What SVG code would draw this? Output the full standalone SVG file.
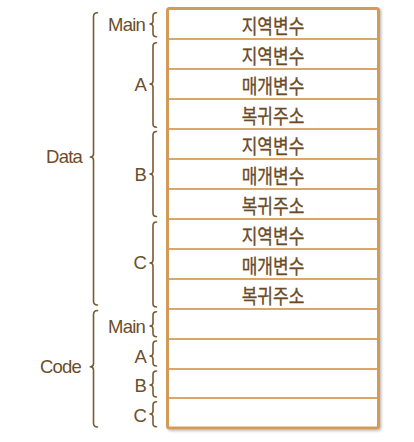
<svg xmlns="http://www.w3.org/2000/svg" width="414" height="442" viewBox="0 0 414 442">
<defs>
<style>
.lbl{font-family:"Liberation Sans",Arial,sans-serif;font-size:18.5px;fill:#6b4e2c;text-anchor:end;letter-spacing:-0.8px}
.ko{font-family:"Noto Sans CJK KR","Noto Sans",sans-serif;font-size:20.5px;fill:#6b4a26;stroke:#6b4a26;stroke-width:0.35;text-anchor:middle}
.brace{fill:none;stroke:#7a5a33;stroke-width:1.6;stroke-linecap:round;stroke-linejoin:round}
.row{stroke:#daa66a;stroke-width:1.8}
.box{fill:#fff;stroke:#d39a58;stroke-width:3}
</style>
<filter id="sh" x="-5%" y="-5%" width="115%" height="115%">
<feDropShadow dx="1.5" dy="1.5" stdDeviation="1.2" flood-color="#000" flood-opacity="0.25"/>
</filter>
</defs>
<rect width="414" height="442" fill="#fff"/>
<g id="memory">
<rect class="box" x="167.5" y="8.5" width="211" height="419.5" rx="2" filter="url(#sh)"/>
<g id="rows">
<line class="row" x1="169" y1="39" x2="377" y2="39"/>
<line class="row" x1="169" y1="69" x2="377" y2="69"/>
<line class="row" x1="169" y1="99" x2="377" y2="99"/>
<line class="row" x1="169" y1="129" x2="377" y2="129"/>
<line class="row" x1="169" y1="159" x2="377" y2="159"/>
<line class="row" x1="169" y1="189" x2="377" y2="189"/>
<line class="row" x1="169" y1="219" x2="377" y2="219"/>
<line class="row" x1="169" y1="249" x2="377" y2="249"/>
<line class="row" x1="169" y1="279" x2="377" y2="279"/>
<line class="row" x1="169" y1="309" x2="377" y2="309"/>
<line class="row" x1="169" y1="339" x2="377" y2="339"/>
<line class="row" x1="169" y1="369" x2="377" y2="369"/>
<line class="row" x1="169" y1="398" x2="377" y2="398"/>
</g>
<g id="cells">
<text class="ko" transform="translate(273,33.5) scale(0.83,1)">지역변수</text>
<text class="ko" transform="translate(273,63.5) scale(0.83,1)">지역변수</text>
<text class="ko" transform="translate(273,93.5) scale(0.83,1)">매개변수</text>
<text class="ko" transform="translate(273,123.5) scale(0.83,1)">복귀주소</text>
<text class="ko" transform="translate(273,153.5) scale(0.83,1)">지역변수</text>
<text class="ko" transform="translate(273,183.5) scale(0.83,1)">매개변수</text>
<text class="ko" transform="translate(273,213.5) scale(0.83,1)">복귀주소</text>
<text class="ko" transform="translate(273,243.5) scale(0.83,1)">지역변수</text>
<text class="ko" transform="translate(273,273.5) scale(0.83,1)">매개변수</text>
<text class="ko" transform="translate(273,303.5) scale(0.83,1)">복귀주소</text>
</g>
</g>
<g id="connectors">
<path class="brace" d="M156.5,12.7 Q153,12.7 153,16 L153,21 Q153,24 150,24 Q153,24 153,27 L153,33.5 Q153,36.7 156.5,36.7"/>
<path class="brace" d="M156.5,42.7 Q153,42.7 153,46 L153,81 Q153,84 150,84 Q153,84 153,87 L153,124 Q153,127.3 156.5,127.3"/>
<path class="brace" d="M156.5,131.5 Q153,131.5 153,135 L153,171 Q153,174 150,174 Q153,174 153,177 L153,213 Q153,216.5 156.5,216.5"/>
<path class="brace" d="M156.5,222 Q153,222 153,225.5 L153,260 Q153,263 150,263 Q153,263 153,266 L153,303.5 Q153,307 156.5,307"/>
<path class="brace" d="M156.5,311.7 Q153,311.7 153,315 L153,323 Q153,326 150,326 Q153,326 153,329 L153,333.5 Q153,336.7 156.5,336.7"/>
<path class="brace" d="M156.5,341 Q153,341 153,344.3 L153,353 Q153,356 150,356 Q153,356 153,359 L153,362.7 Q153,366 156.5,366"/>
<path class="brace" d="M156.5,371 Q153,371 153,374.3 L153,382 Q153,385 150,385 Q153,385 153,388 L153,393.7 Q153,397 156.5,397"/>
<path class="brace" d="M156.5,401.7 Q153,401.7 153,405 L153,411 Q153,414 150,414 Q153,414 153,417 L153,423.4 Q153,426.7 156.5,426.7"/>
<path class="brace" d="M97.5,12.7 Q93.5,12.7 93.5,16.5 L93.5,154 Q93.5,157 90.3,157 Q93.5,157 93.5,160 L93.5,301 Q93.5,305 97.5,305"/>
<path class="brace" d="M97.5,310.5 Q93.5,310.5 93.5,314.5 L93.5,363.5 Q93.5,366.7 90.3,366.7 Q93.5,366.7 93.5,370 L93.5,423 Q93.5,427 97.5,427"/>
</g>
<g id="labels">
<text class="lbl" x="145" y="30.5">Main</text>
<text class="lbl" x="146" y="90.5">A</text>
<text class="lbl" x="146" y="180.5">B</text>
<text class="lbl" x="146" y="269">C</text>
<text class="lbl" x="82" y="163">Data</text>
<text class="lbl" x="145" y="333">Main</text>
<text class="lbl" x="146" y="362.5">A</text>
<text class="lbl" x="146" y="392">B</text>
<text class="lbl" x="146" y="421.5">C</text>
<text class="lbl" x="81" y="373">Code</text>
</g>
</svg>
